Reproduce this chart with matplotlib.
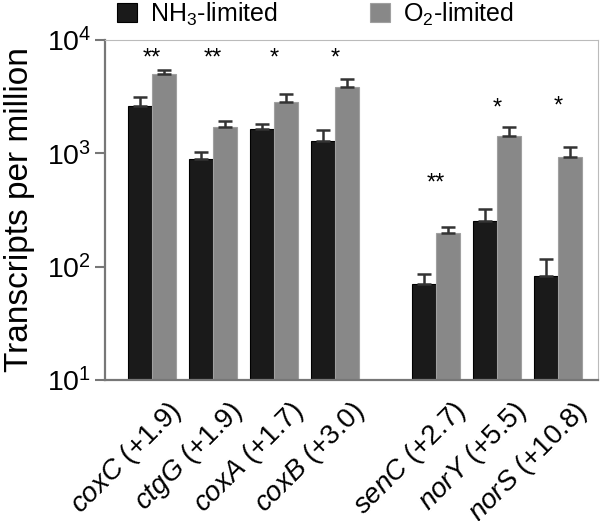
import matplotlib
matplotlib.use('agg')
import matplotlib.pyplot as plt
from matplotlib.transforms import ScaledTranslation
import numpy as np

plt.rcParams['font.family'] = 'Liberation Sans'
plt.rcParams['mathtext.fontset'] = 'custom'
plt.rcParams['mathtext.rm'] = 'Liberation Sans'
plt.rcParams['mathtext.it'] = 'Liberation Sans:italic'

# genes and fold change
genes = ['coxC', 'ctgG', 'coxA', 'coxB', 'senC', 'norY', 'norS']
fold = ['+1.9', '+1.9', '+1.7', '+3.0', '+2.7', '+5.5', '+10.8']
pos = [0, 1, 2, 3, 4.66, 5.66, 6.66]

# transcripts per million
nh3 = [2610, 885, 1650, 1290, 71, 254, 83]
nh3_err = [550, 150, 175, 320, 15, 66, 34]
o2 = [4980, 1720, 2860, 3880, 199, 1420, 935]
o2_err = [450, 220, 450, 670, 23, 280, 200]
stars = ['**', '**', '*', '*', '**', '*', '*']
star_y = [6900, 6900, 6900, 6900, 540, 2500, 2600]

fig = plt.figure(figsize=(6, 5.21), dpi=100)
ax = fig.add_axes([0.175, 0.2706, 0.822, 0.6525])

w = 0.394
x = np.array(pos)
ekw = dict(ecolor='#333333', elinewidth=1.8, capsize=5, capthick=1.8)
ax.bar(x - w / 2, nh3, w, color='#1a1a1a', edgecolor='#000000', linewidth=0.8,
       yerr=[np.zeros(len(nh3)), nh3_err], error_kw=ekw, label='NH$_3$-limited')
ax.bar(x + w / 2, o2, w, color='#888888', edgecolor='#a0a0a0', linewidth=0.8,
       yerr=[np.zeros(len(o2)), o2_err], error_kw=ekw, label='O$_2$-limited')

for xi, s, sy in zip(x, stars, star_y):
    ax.text(xi, sy, s, ha='center', va='center', fontsize=17)

ax.set_yscale('log')
ax.set_ylim(10, 1e4)
ax.set_xlim(-0.772, 7.32)
ax.minorticks_off()
ax.set_yticks([10, 100, 1000, 10000])
ax.set_yticklabels(['10$^1$', '10$^2$', '10$^3$', '10$^4$'])
ax.tick_params(axis='y', length=7, width=1.5, color='#777777', labelsize=20.5, pad=3)
ax.set_xticks(x)
ax.set_xticklabels([r'$\it{%s}$ (%s)' % (g, f) for g, f in zip(genes, fold)],
                   rotation=45, ha='right', va='top', rotation_mode='anchor', fontsize=20)
ax.tick_params(axis='x', length=0, pad=12)
shift = ScaledTranslation(15 / 100, 0, fig.dpi_scale_trans)
for lab in ax.get_xticklabels():
    lab.set_transform(lab.get_transform() + shift)
ax.set_ylabel('Transcripts per million', fontsize=24)
ax.yaxis.set_label_coords(-0.142, 0.5)

for s in ['top', 'right']:
    ax.spines[s].set_color('#bbbbbb')
    ax.spines[s].set_linewidth(0.8)
for s in ['left', 'bottom']:
    ax.spines[s].set_color('#777777')
    ax.spines[s].set_linewidth(1.6)

fig.legend(loc='center left', bbox_to_anchor=(117 / 600, 1 - 14 / 521), ncol=2, frameon=False,
           fontsize=18, borderpad=0, borderaxespad=0,
           handlelength=0.8, handleheight=0.8, handletextpad=0.52, columnspacing=3.7)

fig.savefig('out.png', dpi=100)
